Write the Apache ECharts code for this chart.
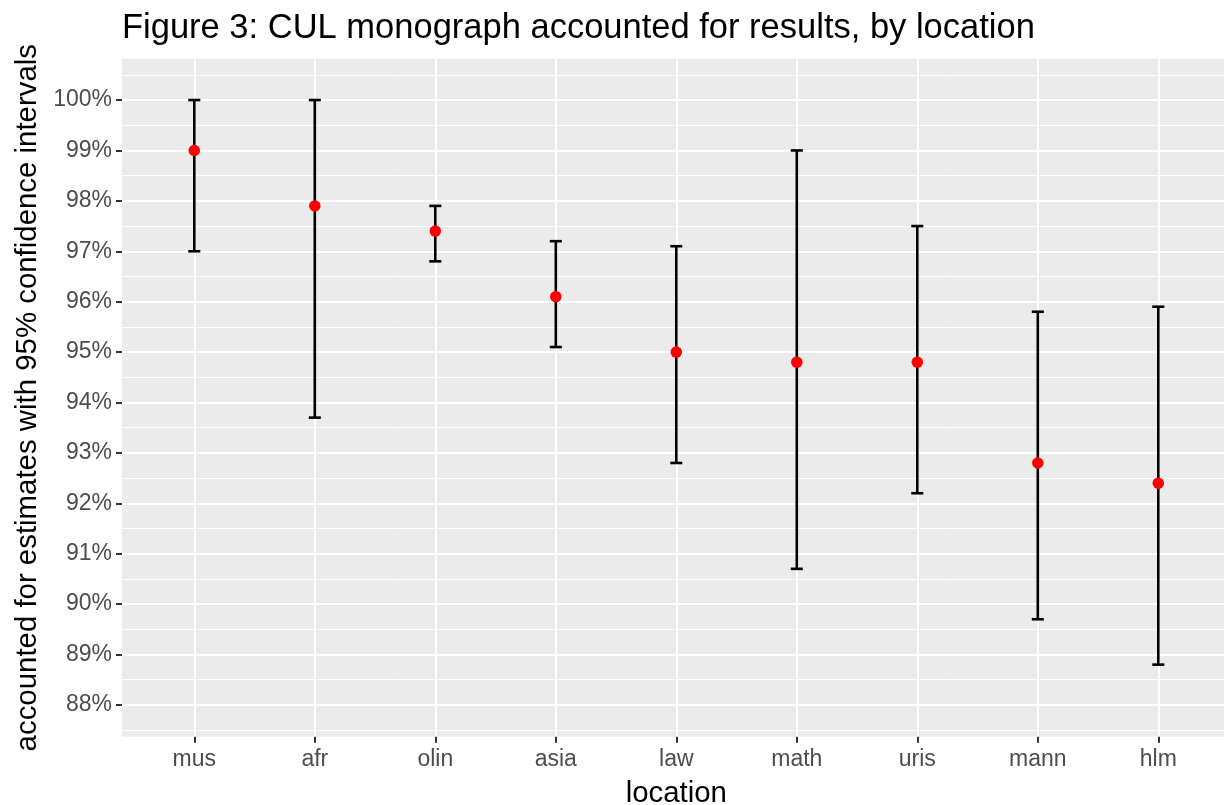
<!DOCTYPE html>
<html>
<head>
<meta charset="utf-8">
<script src="https://cdn.jsdelivr.net/npm/echarts@6/dist/echarts.min.js"></script>
<style>
  html, body { margin: 0; padding: 0; background: #ffffff; }
  #chart { width: 1224px; height: 805px; }
</style>
</head>
<body>
<div id="chart"></div>
<script>
// ---- data ----
const locations = ['mus', 'afr', 'olin', 'asia', 'law', 'math', 'uris', 'mann', 'hlm'];
const estimate  = [99.0, 97.9, 97.4, 96.1, 95.0, 94.8, 94.8, 92.8, 92.4];
const lower     = [97.0, 93.7, 96.8, 95.1, 92.8, 90.7, 92.2, 89.7, 88.8];
const upper     = [100.0, 100.0, 97.9, 97.2, 97.1, 99.0, 97.5, 95.8, 95.9];
const yTicks      = [88, 89, 90, 91, 92, 93, 94, 95, 96, 97, 98, 99, 100];
const yMinorTicks = [87.5, 88.5, 89.5, 90.5, 91.5, 92.5, 93.5, 94.5, 95.5, 96.5, 97.5, 98.5, 99.5, 100.5];
const titleText = 'Figure 3: CUL monograph accounted for results, by location';
const xTitle = 'location';
const yTitle = 'accounted for estimates with 95% confidence intervals';

const xIdx = locations.map((_, i) => i);
const FONT = '"Liberation Sans", Arial, Helvetica, sans-serif';

const chart = echarts.init(document.getElementById('chart'), null, { renderer: 'canvas' });

const option = {
  backgroundColor: '#ffffff',
  animation: false,
  title: {
    text: titleText,
    left: 122,
    top: 11,
    padding: 0,
    textStyle: { fontFamily: FONT, fontSize: 34.5, fontWeight: 'normal', color: '#000000' }
  },
  grid: {
    left: 122,
    top: 58.7,
    width: 1108.6,
    height: 678,
    show: true,
    backgroundColor: '#EBEBEB',
    borderWidth: 0,
    containLabel: false,
    outerBoundsMode: 'none'
  },
  xAxis: {
    type: 'value',
    min: -0.6,
    max: 8.6,
    name: xTitle,
    nameLocation: 'middle',
    nameGap: 43,
    nameTextStyle: { fontFamily: FONT, fontSize: 29.4, color: '#000000' },
    axisLine: { show: false, onZero: false },
    axisTick: { show: true, length: 6, customValues: xIdx, lineStyle: { color: '#333333', width: 2 } },
    axisLabel: {
      customValues: xIdx,
      margin: 11,
      fontFamily: FONT, fontSize: 23, color: '#4D4D4D',
      formatter: v => locations[Math.round(v)]
    },
    splitLine: { show: true, lineStyle: { color: '#ffffff', width: 2 } }
  },
  yAxis: [
    {
      type: 'value',
      min: 87.37,
      max: 100.82,
      position: 'left',
      name: yTitle,
      nameLocation: 'middle',
      nameGap: 70,
      nameTextStyle: { fontFamily: FONT, fontSize: 29.4, color: '#000000' },
      axisLine: { show: false, onZero: false },
      axisTick: { show: true, length: 6, customValues: yTicks, lineStyle: { color: '#333333', width: 2 } },
      axisLabel: {
        customValues: yTicks,
        margin: 10,
        fontFamily: FONT, fontSize: 23, color: '#4D4D4D',
        formatter: v => Math.round(v) + '%'
      },
      splitLine: { show: true, lineStyle: { color: '#ffffff', width: 2 } },
      z: 3
    },
    {
      type: 'value',
      min: 87.37,
      max: 100.82,
      position: 'left',
      axisLine: { show: false, onZero: false },
      axisTick: { show: false, customValues: yMinorTicks },
      axisLabel: { show: false, customValues: yMinorTicks },
      splitLine: { show: true, lineStyle: { color: '#ffffff', width: 1 } },
      z: 2
    }
  ],
  series: [
    {
      type: 'custom',
      name: 'ci',
      yAxisIndex: 0,
      data: xIdx.map(i => [i, lower[i], upper[i]]),
      encode: { x: 0, y: [1, 2] },
      renderItem: function (params, api) {
        const x = api.value(0);
        const pLo = api.coord([x, api.value(1)]);
        const pHi = api.coord([x, api.value(2)]);
        const hw = api.size([0.1, 0])[0] / 2;
        const style = { stroke: '#000000', lineWidth: 2.6, fill: null };
        return {
          type: 'group',
          children: [
            { type: 'line', shape: { x1: pLo[0], y1: pLo[1], x2: pHi[0], y2: pHi[1] }, style: style },
            { type: 'line', shape: { x1: pHi[0] - hw, y1: pHi[1], x2: pHi[0] + hw, y2: pHi[1] }, style: style },
            { type: 'line', shape: { x1: pLo[0] - hw, y1: pLo[1], x2: pLo[0] + hw, y2: pLo[1] }, style: style }
          ]
        };
      },
      z: 5
    },
    {
      type: 'scatter',
      name: 'estimate',
      yAxisIndex: 0,
      data: xIdx.map(i => [i, estimate[i]]),
      symbol: 'circle',
      symbolSize: 11.5,
      itemStyle: { color: '#FF0000', opacity: 1 },
      z: 6
    }
  ]
};

chart.setOption(option);
</script>
</body>
</html>
